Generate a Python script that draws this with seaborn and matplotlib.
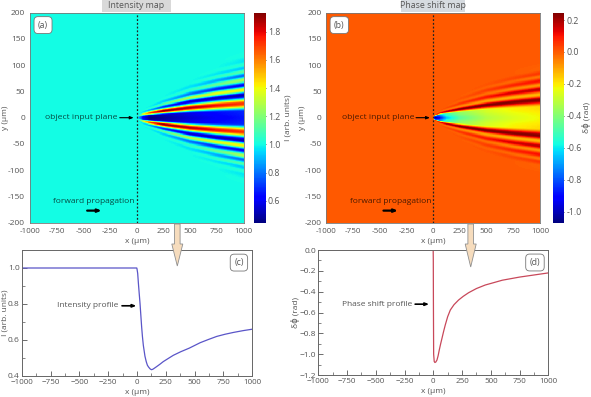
import numpy as np
import pandas as pd
import matplotlib
matplotlib.use('Agg')
import matplotlib.pyplot as plt
import seaborn as sns
from matplotlib.patches import Polygon
from matplotlib.ticker import MultipleLocator

map_x = [0, 15, 60, 125, 250, 500, 750, 1000]
spread_inner = [0.10, 0.14, 0.24, 0.32, 0.45, 0.69, 0.86, 1.0]
spread_outer = [0.10, 0.15, 0.28, 0.38, 0.55, 0.77, 0.90, 1.0]

# intensity map: |y| of each fringe at x=1000, then its value in each map_x column
int_y = [0, 11, 27, 43, 53, 62, 72, 80, 88, 94, 101, 108, 118, 130]
int_vals = [
    [1.0, 0.92, 0.60, 0.44, 0.48, 0.56, 0.61, 0.66],
    [1.0, 0.95, 0.63, 0.47, 0.50, 0.58, 0.64, 0.68],
    [1.0, 1.02, 1.35, 1.70, 1.92, 1.87, 1.78, 1.72],
    [1.0, 1.0, 0.96, 0.88, 0.70, 0.55, 0.52, 0.50],
    [1.0, 1.0, 1.0, 1.03, 1.12, 1.30, 1.38, 1.42],
    [1.0, 1.0, 1.0, 0.99, 0.93, 0.80, 0.68, 0.62],
    [1.0, 1.0, 1.0, 1.0, 1.01, 1.05, 1.15, 1.28],
    [1.0, 1.0, 1.0, 1.0, 1.0, 0.96, 0.88, 0.78],
    [1.0, 1.0, 1.0, 1.0, 1.0, 1.0, 1.05, 1.12],
    [1.0, 1.0, 1.0, 1.0, 1.0, 1.0, 0.97, 0.92],
    [1.0, 1.0, 1.0, 1.0, 1.0, 1.0, 1.01, 1.04],
    [1.0, 1.0, 1.0, 1.0, 1.0, 1.0, 1.0, 0.97],
    [1.0, 1.0, 1.0, 1.0, 1.0, 1.0, 1.0, 1.01],
    [1.0, 1.0, 1.0, 1.0, 1.0, 1.0, 1.0, 1.0],
]

# phase map, same layout
phase_y = [0, 20, 34, 44, 54, 62, 70, 78, 84, 92, 105]
phase_vals = [
    [0.0, -1.08, -0.90, -0.65, -0.46, -0.32, -0.26, -0.22],
    [0.0, -0.85, -0.75, -0.52, -0.38, -0.27, -0.21, -0.18],
    [0.0, 0.02, 0.10, 0.18, 0.24, 0.25, 0.24, 0.24],
    [0.0, 0.0, -0.01, -0.03, -0.06, -0.10, -0.12, -0.13],
    [0.0, 0.0, 0.0, 0.02, 0.05, 0.10, 0.15, 0.18],
    [0.0, 0.0, 0.0, 0.0, -0.01, -0.03, -0.06, -0.08],
    [0.0, 0.0, 0.0, 0.0, 0.01, 0.04, 0.08, 0.11],
    [0.0, 0.0, 0.0, 0.0, 0.0, -0.01, -0.02, -0.04],
    [0.0, 0.0, 0.0, 0.0, 0.0, 0.01, 0.03, 0.05],
    [0.0, 0.0, 0.0, 0.0, 0.0, 0.0, 0.0, -0.01],
    [0.0, 0.0, 0.0, 0.0, 0.0, 0.0, 0.0, 0.0],
]

# on-axis profiles
int_prof_x = [-1000, -500, -2, 0, 6, 12, 19, 26, 33, 40, 47, 55, 62, 69, 80, 90, 100, 113, 125, 136, 150, 170,
              198, 228, 270, 315, 380, 454, 548, 620, 692, 764, 836, 920, 1000]
int_prof_y = [1.0, 1.0, 1.0, 0.995, 0.97, 0.916, 0.86, 0.805, 0.74, 0.675, 0.62, 0.57, 0.54, 0.51, 0.48, 0.46,
              0.45, 0.44, 0.435, 0.437, 0.443, 0.452, 0.465, 0.48, 0.497, 0.515, 0.535, 0.555, 0.585, 0.603,
              0.62, 0.632, 0.642, 0.652, 0.66]
phase_prof_x = [-1000, -1, 0, 1, 3, 8, 14, 22, 32, 42, 52, 63, 75, 90, 104, 125, 148, 180, 220, 260, 307, 375,
                452, 520, 600, 675, 750, 875, 1000]
phase_prof_y = [0.0, 0.0, -0.1, -0.5, -1.0, -1.07, -1.08, -1.075, -1.056, -1.015, -0.96, -0.905, -0.85, -0.78,
                -0.72, -0.64, -0.576, -0.525, -0.48, -0.445, -0.41, -0.37, -0.336, -0.315, -0.29, -0.275,
                -0.26, -0.24, -0.22]

x_ticks = [-1000, -750, -500, -250, 0, 250, 500, 750, 1000]
y_ticks = [-200, -150, -100, -50, 0, 50, 100, 150, 200]
int_cbar_ticks = [0.6, 0.8, 1.0, 1.2, 1.4, 1.6, 1.8]
phase_cbar_ticks = [-1.0, -0.8, -0.6, -0.4, -0.2, 0.0, 0.2]

W, H = 591, 397
DX, DY = 4, 1
GRAY = '#555555'

sns.set_theme(style='white')
plt.rcParams['font.family'] = ['Open Sans', 'DejaVu Sans']
plt.rcParams['font.size'] = 6


def build_map(ys, vals, background):
    xs = np.arange(-1000, 1000, DX) + DX / 2
    yy = np.arange(-200, 200, DY) + DY / 2
    out = np.full((len(yy), len(xs)), float(background))
    vals = np.array(vals)
    ys = np.array(ys, dtype=float)
    mix = ys / ys[-1]
    for i, x in enumerate(xs):
        if x < 0:
            continue
        s_in = np.interp(x, map_x, spread_inner)
        s_out = np.interp(x, map_x, spread_outer)
        col_y = ys * ((1 - mix) * s_in + mix * s_out)
        col_v = np.array([np.interp(x, map_x, row) for row in vals])
        a = np.abs(yy)
        j = np.clip(np.searchsorted(col_y, a) - 1, 0, len(col_y) - 2)
        t = np.clip((a - col_y[j]) / (col_y[j + 1] - col_y[j]), 0, 1)
        t = (1 - np.cos(np.pi * t)) / 2
        res = col_v[j] + (col_v[j + 1] - col_v[j]) * t
        res[a > col_y[-1]] = background
        out[:, i] = res
    return pd.DataFrame(out, index=yy, columns=xs)


def ax_px(x0, y0, x1, y1):
    return fig.add_axes([x0 / W, 1 - y1 / H, (x1 - x0) / W, (y1 - y0) / H])


def cx(x):
    return (np.asarray(x, dtype=float) + 1000) / DX


def cy(y):
    return (np.asarray(y, dtype=float) + 200) / DY


def arrow(ax, x0, y0, x1, y1, lw=0.8):
    ax.annotate('', xy=(x1, y1), xytext=(x0, y0),
                arrowprops=dict(arrowstyle='-|>,head_length=0.35,head_width=0.14', color='black', lw=lw,
                                shrinkA=0, shrinkB=0))


def place_ylabel(ax, px):
    box = ax.get_position()
    ax.yaxis.label.set_va('center')
    ax.yaxis.set_label_coords((px / W - box.x0) / box.width, 0.5)


def draw_map(ax, cax, data, vmin, vmax, ticks, cbar_label, letter, label_px, cbar_px):
    sns.heatmap(data, ax=ax, cbar_ax=cax, cmap='jet', vmin=vmin, vmax=vmax,
                xticklabels=False, yticklabels=False, linewidths=0, rasterized=True)
    ax.set_ylim(0, data.shape[0])
    ax.set_xlim(0, data.shape[1])
    ax.set_xticks(cx(x_ticks))
    ax.set_xticklabels([str(v) for v in x_ticks], fontsize=5.8, color=GRAY)
    ax.set_yticks(cy(y_ticks))
    ax.set_yticklabels([str(v) for v in y_ticks], fontsize=6, color=GRAY)
    ax.tick_params(axis='both', length=2, width=0.6, color=GRAY, pad=1.5, direction='out')
    ax.set_xlabel('x (µm)', fontsize=6, color=GRAY, labelpad=2.5)
    ax.set_ylabel('y (µm)', fontsize=6, color=GRAY)
    place_ylabel(ax, label_px)
    for sp in ax.spines.values():
        sp.set_visible(True)
        sp.set_linewidth(0.6)
        sp.set_color('#777777')
    ax.axvline(cx(0), color='#222222', lw=0.9, ls=(0, (1.5, 1.5)))
    ax.text(cx(-517), cy(0), 'object input plane', fontsize=6.1, color='black', alpha=0.7,
            ha='center', va='center')
    arrow(ax, cx(-160), cy(0), cx(-30), cy(0))
    ax.text(cx(-400), cy(-159), 'forward propagation', fontsize=6, color='black', alpha=0.7,
            ha='center', va='center')
    arrow(ax, cx(-465), cy(-177), cx(-330), cy(-177), lw=1.6)
    ax.text(0.061, 0.941, letter, transform=ax.transAxes, fontsize=6.3, color=GRAY, ha='center', va='center',
            bbox=dict(boxstyle='round,pad=0.45', fc='white', ec='#777777', lw=0.6))
    cax.set_yticks(ticks)
    cax.set_yticklabels([f'{v:.1f}' for v in ticks], fontsize=6.3, color=GRAY)
    cax.tick_params(axis='y', length=3, width=0.6, color='#333333', direction='in', pad=1.5, right=True)
    cax.set_ylabel(cbar_label, fontsize=6, color=GRAY)
    place_ylabel(cax, cbar_px)


def draw_profile(ax, xs, ys, color, ylim, y_major, y_minor, ylabel, letter, label, lx, ly, a0, a1, label_px):
    sns.lineplot(x=xs, y=ys, ax=ax, color=color, lw=0.9, estimator=None, sort=False)
    ax.set_xlim(-1000, 1000)
    ax.set_ylim(*ylim)
    ax.set_xticks(x_ticks)
    ax.xaxis.set_minor_locator(MultipleLocator(125))
    ax.yaxis.set_major_locator(MultipleLocator(y_major))
    ax.yaxis.set_minor_locator(MultipleLocator(y_minor))
    ax.tick_params(axis='both', which='major', length=3.5, width=0.6, color=GRAY, labelcolor=GRAY,
                   labelsize=5.8, direction='in', pad=2.5, bottom=True, left=True)
    ax.tick_params(axis='y', labelsize=6, pad=1.5)
    ax.tick_params(axis='both', which='minor', length=2, width=0.5, color=GRAY, direction='in', bottom=True, left=True)
    ax.set_xlabel('x (µm)', fontsize=6, color=GRAY, labelpad=2)
    ax.set_ylabel(ylabel, fontsize=6, color=GRAY)
    place_ylabel(ax, label_px)
    for sp in ax.spines.values():
        sp.set_visible(True)
        sp.set_linewidth(0.7)
        sp.set_color('#666666')
    ax.text(lx, ly, label, fontsize=6, color=GRAY, ha='right', va='center')
    arrow(ax, a0, ly, a1, ly, lw=1.2)
    ax.text(0.942, 0.90, letter, transform=ax.transAxes, fontsize=6.3, color=GRAY, ha='center', va='center',
            bbox=dict(boxstyle='round,pad=0.45', fc='white', ec='#777777', lw=0.6))


fig = plt.figure(figsize=(W / 100, H / 100), dpi=100)

ax_a = ax_px(30, 12.7, 243.7, 222.7)
cax_a = ax_px(254.3, 12.7, 265.7, 222.7)
ax_b = ax_px(326.3, 12.7, 540, 222.7)
cax_b = ax_px(553.3, 12.7, 564.3, 222.7)
ax_c = ax_px(21.7, 250, 252.3, 376)
ax_d = ax_px(318.3, 250, 548.3, 375)

draw_map(ax_a, cax_a, build_map(int_y, int_vals, 1.0), 0.444, 1.935, int_cbar_ticks,
         'I (arb. units)', '(a)', 5, 288)
draw_map(ax_b, cax_b, build_map(phase_y, phase_vals, 0.0), -1.069, 0.246, phase_cbar_ticks,
         'δϕ (rad)', '(b)', 302, 586)

draw_profile(ax_c, int_prof_x, int_prof_y, '#5a55c8', (0.4, 1.1), 0.2, 0.1, 'I (arb. units)', '(c)',
             'Intensity profile', -160, 0.79, -130, -6, 4.5)
draw_profile(ax_d, phase_prof_x, phase_prof_y, '#c8485a', (-1.2, 0.0), 0.2, 0.1, 'δϕ (rad)', '(d)',
             'Phase shift profile', -181, -0.52, -158, -37, 295)

# overlay in pixel coordinates: section titles and the block arrows between rows
over = fig.add_axes([0, 0, 1, 1], zorder=10)
over.set_xlim(0, W)
over.set_ylim(H, 0)
over.axis('off')
for cxp, s, c in [(136.5, 'Intensity map', '#d9d9d9'), (433, 'Phase shift map', '#d6dbe0')]:
    half = 34.5 if s.startswith('Int') else 32
    over.add_patch(plt.Rectangle((cxp - half, 0), 2 * half, 12, fc=c, ec='none'))
    over.text(cxp, 6, s, fontsize=6.3, color=GRAY, ha='center', va='center')
for ax0, tip in [(177.3, 266), (470.7, 267)]:
    pts = [(ax0 - 2.8, 224), (ax0 + 2.8, 224), (ax0 + 2.8, 244), (ax0 + 5.5, 244), (ax0, tip),
           (ax0 - 5.5, 244), (ax0 - 2.8, 244)]
    over.add_patch(Polygon(pts, closed=True, fc='#f6dcbd', ec='#8f8f8f', lw=0.6))

fig.savefig('out.png', dpi=100)
